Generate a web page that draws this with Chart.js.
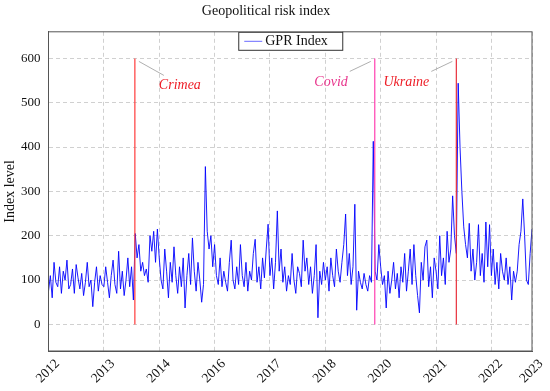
<!DOCTYPE html>
<html>
<head>
<meta charset="utf-8">
<script src="https://cdn.jsdelivr.net/npm/chart.js@4.4.1/dist/chart.umd.min.js"></script>
<style>
  html, body { margin: 0; padding: 0; background: #fff; }
  #wrap { width: 550px; height: 391px; }
</style>
</head>
<body>
<div id="wrap"><canvas id="gprChart" width="550" height="391"></canvas></div>
<script>
// Tick labels along the x axis (as printed on the original figure)
const tickLabels = ["2012", "2013", "2014", "2016", "2017", "2018", "2020", "2021", "2022", "2023"];
const tickIndex = [0, 30, 60, 90, 120, 150, 180, 210, 240, 262];

// GPR index (one value per sample)
const gprValues = [
    // 2012
    75, 110, 60, 140, 95, 85, 130, 70, 120, 100, 145, 80, 90, 125, 70, 135, 105, 80, 115, 65,
    95, 140, 85, 100, 40, 95, 130, 75, 110, 90,
    // 2013
    85, 130, 95, 60, 110, 145, 90, 70, 165, 80, 120, 65, 100, 150, 85, 130, 55, 205, 150, 180,
    120, 140, 110, 125, 95, 200, 165, 210, 140, 215,
    // 2014
    150, 100, 80, 170, 120, 60, 140, 95, 175, 110, 70, 130, 85, 150, 37, 110, 160, 90, 195, 120,
    75, 140, 100, 50, 90, 356, 210, 170, 200, 130,
    // 2016
    180, 110, 90, 150, 85, 120, 95, 75, 140, 190, 100, 80, 130, 90, 180, 110, 85, 140, 75, 120,
    100, 160, 192, 95, 130, 80, 150, 105, 170, 226,
    // 2017
    110, 150, 80, 140, 256, 120, 170, 95, 130, 75, 110, 90, 160, 100, 70, 130, 115, 85, 190, 120,
    150, 90, 130, 70, 110, 180, 15, 120, 90, 140,
    // 2018
    100, 130, 75, 150, 110, 85, 170, 120, 95, 140, 180, 249, 110, 160, 90, 130, 271, 32, 120, 95,
    80, 115, 90, 75, 110, 95, 413, 120, 100, 180,
    // 2020
    130, 90, 110, 37, 120, 70, 100, 140, 80, 115, 60, 130, 95, 160, 75, 120, 170, 90, 180, 110,
    65, 26, 140, 100, 175, 190, 85, 130, 60, 150,
    // 2021
    120, 80, 200, 110, 150, 90, 210, 140, 170, 290, 200, 160, 544, 400, 300, 220, 180, 150, 228, 120,
    170, 100, 140, 225, 110, 160, 95, 231, 130, 225,
    // 2022
    110, 170, 90, 140, 80, 160, 120, 100, 150, 90, 130, 55, 120, 95, 120, 180, 210, 283, 200, 100,
    90, 160, 215
];

// Marked events
const eventNames = ["Crimea", "Covid", "Ukraine"];
const eventPos = [46.8, 176.8, 221];
const eventTop = 600;

const eventLineColors = ["#ff3b3b", "#ff3fb0", "#e8303c"];
const eventTextColors = ["#ee1c25", "#e8348c", "#ee1c25"];
// label placed to the right (1) or left (-1) of its line
const eventSide = [1, -1, -1];

const serif = "'Liberation Serif', 'DejaVu Serif', serif";

// Datasets
const datasets = [
    {
        label: "GPR Index",
        data: gprValues.map((v, i) => ({ x: i, y: v })),
        borderColor: "#0000ff",
        borderWidth: 0.9,
        pointRadius: 0,
        tension: 0,
        order: 2,
    },
];
eventNames.forEach((name, k) => {
    datasets.push({
        label: name,
        data: [
            { x: eventPos[k], y: 0 },
            { x: eventPos[k], y: eventTop },
        ],
        borderColor: eventLineColors[k],
        borderWidth: 1.2,
        pointRadius: 0,
        order: 1,
    });
});

// Frame, legend box and event notes
const notesPlugin = {
    id: "notes",
    afterDraw(chart) {
        const { ctx, chartArea: a, scales } = chart;
        const xs = scales.x;
        const ys = scales.y;
        ctx.save();

        // full frame round the plot
        ctx.strokeStyle = "#555";
        ctx.lineWidth = 1;
        ctx.strokeRect(a.left, a.top, a.right - a.left, a.bottom - a.top);

        // event notes
        const top = ys.getPixelForValue(eventTop);
        ctx.font = "italic 14px " + serif;
        ctx.textBaseline = "middle";
        eventNames.forEach((name, k) => {
            const xp = xs.getPixelForValue(eventPos[k]);
            const s = eventSide[k];
            ctx.strokeStyle = "#9a9a9a";
            ctx.lineWidth = 0.8;
            ctx.beginPath();
            if (s > 0) {
                ctx.moveTo(xp + 4, top + 3);
                ctx.lineTo(xp + 29, top + 17);
            } else {
                ctx.moveTo(xp - 4, top + 3);
                ctx.lineTo(xp - 25, top + 13);
            }
            ctx.stroke();
            ctx.fillStyle = eventTextColors[k];
            if (s > 0) {
                ctx.textAlign = "left";
                ctx.fillText(name, xp + 24, top + 27);
            } else {
                ctx.textAlign = "right";
                ctx.fillText(name, xp - 27, top + 24);
            }
        });

        // legend box
        const bw = 104, bh = 18;
        const bx = (a.left + a.right) / 2 - bw / 2;
        const by = a.top;
        ctx.fillStyle = "#fff";
        ctx.fillRect(bx, by, bw, bh);
        ctx.strokeStyle = "#333";
        ctx.lineWidth = 1;
        ctx.strokeRect(bx + 0.5, by + 0.5, bw, bh);
        ctx.strokeStyle = "#6a6aff";
        ctx.beginPath();
        ctx.moveTo(bx + 6, by + bh / 2 + 0.5);
        ctx.lineTo(bx + 24, by + bh / 2 + 0.5);
        ctx.stroke();
        ctx.fillStyle = "#111";
        ctx.font = "14px " + serif;
        ctx.textAlign = "left";
        ctx.fillText(datasets[0].label, bx + 27, by + bh / 2 + 1);

        ctx.restore();
    },
};

new Chart(document.getElementById("gprChart"), {
    type: "line",
    data: { datasets: datasets },
    options: {
        responsive: false,
        animation: false,
        layout: { padding: { left: 0, right: 18, top: 0, bottom: 0 } },
        plugins: {
            legend: { display: false },
            tooltip: { enabled: false },
            title: {
                display: true,
                text: "Geopolitical risk index",
                color: "#111",
                font: { family: serif, size: 14, weight: "normal" },
                padding: { top: 3, bottom: 12 },
            },
        },
        scales: {
            x: {
                type: "linear",
                min: 0,
                max: 262,
                afterBuildTicks: (scale) => {
                    scale.ticks = tickIndex.map((v) => ({ value: v }));
                },
                afterFit: (scale) => {
                    scale.height = 40;
                },
                ticks: {
                    autoSkip: false,
                    minRotation: 45,
                    maxRotation: 45,
                    color: "#111",
                    font: { family: serif, size: 13.5 },
                    padding: 5,
                    labelOffset: 9,
                    callback: (value, index) => tickLabels[index],
                },
                grid: {
                    color: "#d0d0d0",
                    drawTicks: false,
                },
                border: { color: "#555", dash: [4, 3] },
            },
            y: {
                min: -60,
                max: 660,
                afterBuildTicks: (scale) => {
                    scale.ticks = [0, 100, 200, 300, 400, 500, 600].map((v) => ({ value: v }));
                },
                afterFit: (scale) => {
                    scale.width = 48.5;
                },
                ticks: {
                    color: "#111",
                    font: { family: serif, size: 13 },
                    padding: 8,
                },
                grid: {
                    color: "#d0d0d0",
                    drawTicks: false,
                },
                border: { color: "#555", dash: [4, 3] },
                title: {
                    display: true,
                    text: "Index level",
                    color: "#111",
                    font: { family: serif, size: 14 },
                    padding: { top: 2, bottom: 0 },
                },
            },
        },
    },
    plugins: [notesPlugin],
});
</script>
</body>
</html>
